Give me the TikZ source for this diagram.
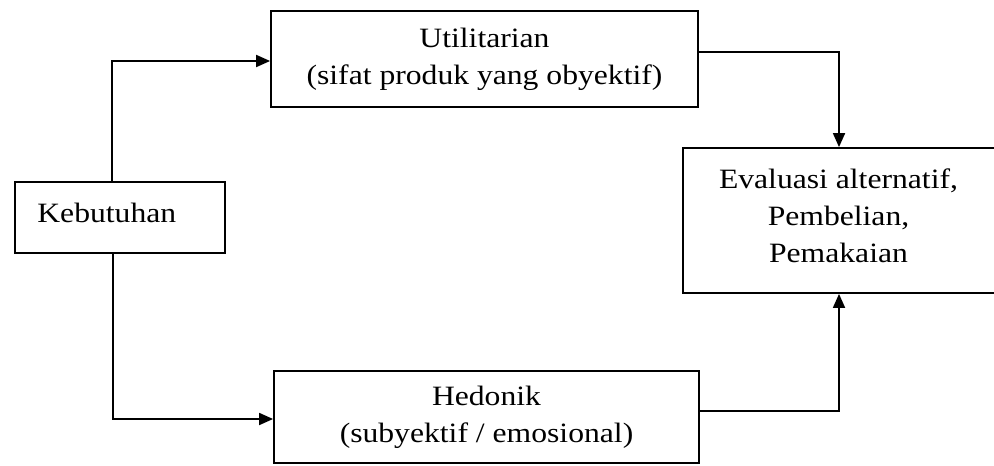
\documentclass[tikz,border=0pt]{standalone}
\usepackage{fontspec}
\setmainfont{Liberation Serif}[FakeStretch=1.13]
\usetikzlibrary{arrows.meta}
\begin{document}
\begin{tikzpicture}[x=0.5pt,y=-0.5pt,
  box/.style={draw, line width=0.9pt, inner sep=0pt},
  lbl/.style={font=\fontsize{14pt}{18.5pt}\selectfont, align=center, inner sep=0pt},
  arr/.style={draw, line width=0.9pt, -{Triangle[length=7pt,width=6pt]}}]
\useasboundingbox (0,0) rectangle (994,465);
\node[box, minimum width=105pt, minimum height=35.5pt] (keb) at (120,217.5) {};
\node[box, lbl, minimum width=213.5pt, minimum height=48pt] (uti) at (484.5,59) {Utilitarian\\(sifat produk yang obyektif)};
\node[box, lbl, minimum width=212.5pt, minimum height=46pt] (hed) at (486.5,417) {Hedonik\\(subyektif / emosional)};
\node[box, minimum width=156pt, minimum height=72.5pt] (eva) at (839,220.5) {};
\node[lbl, anchor=base west] (kebt) at (37,222) {Kebutuhan};
\node[lbl] (evat) at (838.5,215.5) {Evaluasi alternatif,\\Pembelian,\\Pemakaian};
\draw[arr] ([xshift=-4pt]keb.north) |- ([yshift=-1pt]uti.west);
\draw[arr] ([xshift=-3.5pt]keb.south) |- ([yshift=-1pt]hed.west);
\draw[arr] ([yshift=3.5pt]uti.east) -| (eva.north);
\draw[arr] ([yshift=3pt]hed.east) -| (eva.south);
\end{tikzpicture}
\end{document}
